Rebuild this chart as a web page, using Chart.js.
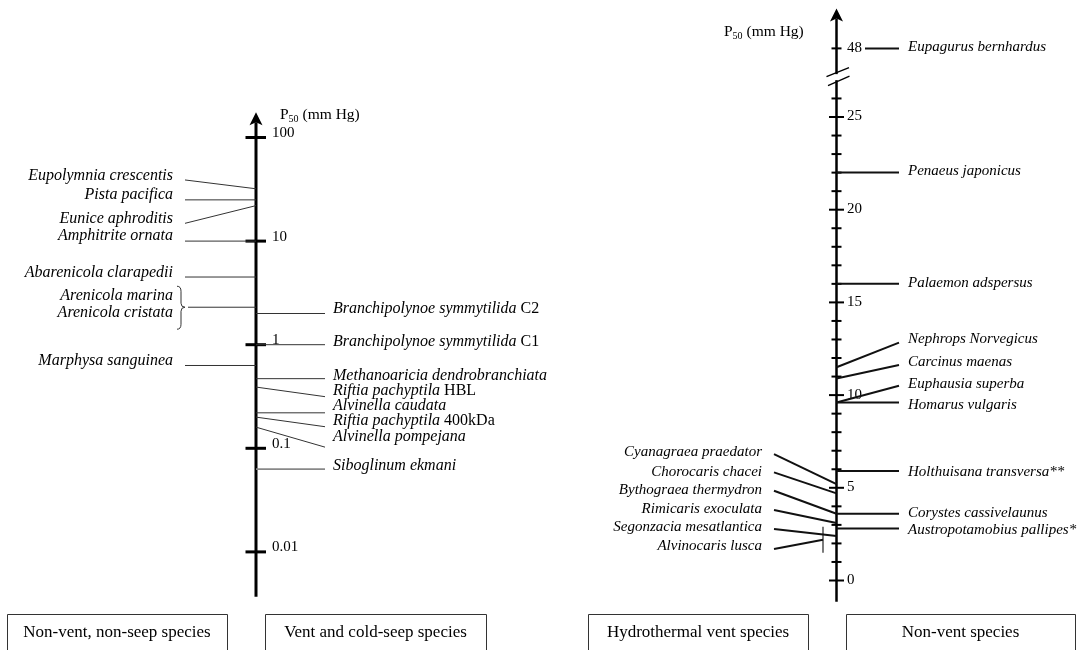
<!DOCTYPE html>
<html><head><meta charset="utf-8">
<script src="https://cdn.jsdelivr.net/npm/chart.js@4.4.1/dist/chart.umd.min.js"></script>
<style>html,body{margin:0;padding:0;background:#fff;}canvas{display:block;}</style>
</head><body>
<canvas id="c" width="1080" height="650"></canvas>
<script>
// ---------------- DATA ----------------
const nonVentNonSeepNames = ['Eupolymnia crescentis','Pista pacifica','Eunice aphroditis','Amphitrite ornata','Abarenicola clarapedii','Arenicola marina\nArenicola cristata','Marphysa sanguinea'];
const nonVentNonSeepP50 = [32, 25, 22, 10, 4.5, 2.3, 0.63];

const ventSeepNames = ['Branchipolynoe symmytilida','Branchipolynoe symmytilida','Methanoaricia dendrobranchiata','Riftia pachyptila','Alvinella caudata','Riftia pachyptila','Alvinella pompejana','Siboglinum ekmani'];
const ventSeepSuffix = ['C2','C1','','HBL','','400kDa','',''];
const ventSeepP50 = [2.0, 1.0, 0.47, 0.39, 0.22, 0.20, 0.16, 0.063];

const hydroVentNames = ['Cyanagraea praedator','Chorocaris chacei','Bythograea thermydron','Rimicaris exoculata','Segonzacia mesatlantica','Alvinocaris lusca'];
const hydroVentP50 = [5.2, 4.7, 3.6, 3.1, 2.4, 2.2];
const alvinocarisRange = [1.5, 2.9];

const nonVentNames = ['Eupagurus bernhardus','Penaeus japonicus','Palaemon adspersus','Nephrops Norvegicus','Carcinus maenas','Euphausia superba','Homarus vulgaris','Holthuisana transversa**','Corystes cassivelaunus','Austropotamobius pallipes*'];
const nonVentP50 = [48, 22, 16, 11.5, 10.9, 9.6, 9.6, 5.9, 3.6, 2.8];

const logTickValues = [0.01, 0.1, 1, 10, 100];
const logTickLabels = ['0.01', '0.1', '1', '10', '100'];
const linTickValues = [0,1,2,3,4,5,6,7,8,9,10,11,12,13,14,15,16,17,18,19,20,21,22,23,24,25,26,48];
const linTickLabels = ['0','','','','','5','','','','','10','','','','','15','','','','','20','','','','','25','','48'];

const groupTitles = ['Non-vent, non-seep species','Vent and cold-seep species','Hydrothermal vent species','Non-vent species'];
const axisTitle = ['P', '50', ' (mm Hg)'];

// ---------------- LAYOUT (pixels / styles) ----------------
const LEFT_AXIS_X = 256, RIGHT_AXIS_X = 836.5, ALV_BAR_X = 823;
const BREAK_SHIFT = 19.3, BREAK_ABOVE = 30, BREAK_MARK = 27.15;
function brk(v){ return v > BREAK_ABOVE ? v - BREAK_SHIFT : v; }

const nvnsLineDy = [-8.8, 0, 17.7, 0, 0, 0, 0];
const nvnsTextDy = [-4.5, -5, -5, -5, -4.5, -2.5, -5];   // relative to line end
const vsLineDy = [0, 0, 0, 9.6, 0, 9.6, 20, 0];
const vsTextDy = [-4.5, -3.2, -2.7, 3.4, -6.8, 4, 9.8, -3];
const hvLineDy = [-30, -21, -23, -13, -7, 9.3];
const hvTextDy = [-32, -21.4, -23.8, -14, -9, 6.3];
const nvLineDy = [0, 0, 0, -24.6, -13.4, -16.8, 0, 0, 0, 0];
const nvTextDy = [-1.4, -1.6, -0.6, -28.3, -16.7, -18.5, 2.5, 0.6, -1.1, 1.4];
const boxes = [[7,227],[265,486],[588,808],[846,1075]];

const SERIF = '"Liberation Serif", "Times New Roman", serif';

// ---------------- CHART ----------------
const pts = (vals, x, f) => vals.map(v => ({x: x, y: f ? f(v) : v}));

const drawPlugin = {
  id: 'diagram',
  afterDatasetsDraw(chart) {
    const ctx = chart.ctx;
    const xS = chart.scales.x, yL = chart.scales.yL, yR = chart.scales.yR;
    const lx = xS.getPixelForValue(LEFT_AXIS_X), rx = xS.getPixelForValue(RIGHT_AXIS_X);
    ctx.save();
    ctx.fillStyle = '#000'; ctx.strokeStyle = '#000';

    function label(it, suf, x, y, align, size) {
      const fi = `italic ${size}px ${SERIF}`, fr = `${size}px ${SERIF}`;
      ctx.font = fi; const w1 = ctx.measureText(it).width;
      ctx.font = fr; const w2 = suf ? ctx.measureText(' ' + suf).width : 0;
      const x0 = align === 'right' ? x - w1 - w2 : x;
      ctx.textAlign = 'left'; ctx.textBaseline = 'middle'; ctx.fillStyle = '#000';
      ctx.font = fi; ctx.fillText(it, x0, y);
      if (suf) { ctx.font = fr; ctx.fillText(' ' + suf, x0 + w1, y); }
    }
    function line(x1, y1, x2, y2, w, c) {
      ctx.beginPath(); ctx.moveTo(x1, y1); ctx.lineTo(x2, y2);
      ctx.lineWidth = w; ctx.strokeStyle = c; ctx.stroke();
    }
    function arrow(x, tip, hw, len) {
      ctx.beginPath(); ctx.moveTo(x, tip); ctx.lineTo(x + hw, tip + len);
      ctx.lineTo(x, tip + len - 3); ctx.lineTo(x - hw, tip + len); ctx.closePath();
      ctx.fillStyle = '#000'; ctx.fill();
    }
    function axisTitleAt(x, y) {
      ctx.textAlign = 'left'; ctx.textBaseline = 'middle'; ctx.fillStyle = '#000';
      ctx.font = `15.5px ${SERIF}`; ctx.fillText(axisTitle[0], x, y);
      const w = ctx.measureText(axisTitle[0]).width;
      ctx.font = `10px ${SERIF}`; ctx.fillText(axisTitle[1], x + w, y + 4);
      const w2 = ctx.measureText(axisTitle[1]).width;
      ctx.font = `15.5px ${SERIF}`; ctx.fillText(axisTitle[2], x + w + w2, y);
    }

    // ---- left (log) axis ----
    const lTop = yL.getPixelForValue(175), lBot = yL.getPixelForValue(0.0037);
    line(lx, lBot, lx, lTop + 10, 3, '#000');
    arrow(lx, lTop, 6.5, 13);
    logTickValues.forEach((v, i) => {
      const y = yL.getPixelForValue(v);
      line(lx - 10.5, y, lx + 10, y, 3, '#000');
      ctx.fillStyle = '#000'; ctx.font = `15px ${SERIF}`; ctx.textAlign = 'left'; ctx.textBaseline = 'middle';
      ctx.fillText(logTickLabels[i], lx + 16, y - 4.5);
    });
    axisTitleAt(280, 115);

    // ---- right (linear, broken) axis ----
    const rTop = yR.getPixelForValue(30.85), rBot = yR.getPixelForValue(-1.15);
    line(rx, rBot, rx, rTop + 10, 2.5, '#000');
    arrow(rx, rTop, 6.5, 13);
    linTickValues.forEach((v, i) => {
      const y = yR.getPixelForValue(brk(v));
      const major = linTickLabels[i] !== '' && v <= BREAK_ABOVE;
      const hw = major ? 7.5 : 5;
      line(rx - hw, y, rx + hw, y, 2, '#000');
      if (linTickLabels[i] !== '') {
        ctx.fillStyle = '#000'; ctx.font = `15px ${SERIF}`; ctx.textAlign = 'left'; ctx.textBaseline = 'middle';
        ctx.fillText(linTickLabels[i], rx + 10.5, y - 0.5);
      }
    });
    const by = yR.getPixelForValue(BREAK_MARK);
    ctx.fillStyle = '#fff'; ctx.fillRect(rx - 3, by - 3, 6, 6);
    line(rx - 10, by - 0.5, rx + 12.5, by - 9.5, 1.3, '#000');
    line(rx - 8.5, by + 8.5, rx + 13, by - 1, 1.3, '#000');
    axisTitleAt(724, 32);

    // ---- leader lines & labels: non-vent, non-seep (left of log axis) ----
    const m0 = chart.getDatasetMeta(0).data;
    nonVentNonSeepNames.forEach((n, i) => {
      const y0 = m0[i].y, y1 = y0 + nvnsLineDy[i];
      if (n.includes('\n')) {
        line(lx, y0, 188, y1, 1, '#333');
        const parts = n.split('\n');
        label(parts[0], '', 173, y1 + nvnsTextDy[i] - 8.5, 'right', 16);
        label(parts[1], '', 173, y1 + nvnsTextDy[i] + 8.5, 'right', 16);
        // brace
        const cy = y1, bx = 181;
        ctx.beginPath();
        ctx.moveTo(bx - 4, cy - 21);
        ctx.quadraticCurveTo(bx, cy - 21, bx, cy - 16);
        ctx.lineTo(bx, cy - 4);
        ctx.quadraticCurveTo(bx, cy, bx + 4, cy);
        ctx.quadraticCurveTo(bx, cy, bx, cy + 4);
        ctx.lineTo(bx, cy + 17);
        ctx.quadraticCurveTo(bx, cy + 22, bx - 4, cy + 22);
        ctx.lineWidth = 1; ctx.strokeStyle = '#333'; ctx.stroke();
      } else {
        line(lx, y0, 185, y1, 1, '#333');
        label(n, '', 173, y1 + nvnsTextDy[i], 'right', 16);
      }
    });

    // ---- vent & cold-seep (right of log axis) ----
    const m1 = chart.getDatasetMeta(1).data;
    ventSeepNames.forEach((n, i) => {
      const y0 = m1[i].y, y1 = y0 + vsLineDy[i];
      const last = i === ventSeepNames.length - 1;
      line(lx, y0, 325, y1, last ? 1.6 : 1, last ? '#888' : '#333');
      label(n, ventSeepSuffix[i], 333, y0 + vsTextDy[i], 'left', 16);
    });

    // ---- hydrothermal vent (left of linear axis) ----
    const m2 = chart.getDatasetMeta(2).data;
    const bar = chart.getDatasetMeta(4).data;
    hydroVentNames.forEach((n, i) => {
      const y0 = m2[i].y;
      const last = i === hydroVentNames.length - 1;
      const sx = last ? bar[0].x : rx;
      line(sx, y0, 774, y0 + hvLineDy[i], 2, '#111');
      label(n, '', 762, y0 + hvTextDy[i], 'right', 15);
    });

    // ---- non-vent (right of linear axis) ----
    const m3 = chart.getDatasetMeta(3).data;
    nonVentNames.forEach((n, i) => {
      const y0 = m3[i].y;
      const sx = i === 0 ? rx + 28.5 : rx;
      line(sx, y0, 899, y0 + nvLineDy[i], 2, '#111');
      label(n, '', 908, y0 + nvTextDy[i], 'left', 15);
    });

    // ---- group boxes ----
    boxes.forEach((b, i) => {
      ctx.beginPath();
      ctx.rect(b[0] + 0.5, 614.5, b[1] - b[0], 60);
      ctx.lineWidth = 1; ctx.strokeStyle = '#333'; ctx.stroke();
      ctx.fillStyle = '#000'; ctx.font = `17px ${SERIF}`; ctx.textAlign = 'center'; ctx.textBaseline = 'middle';
      ctx.fillText(groupTitles[i], (b[0] + b[1]) / 2, 633);
    });
    ctx.restore();
  }
};

new Chart(document.getElementById('c'), {
  type: 'scatter',
  data: {
    datasets: [
      { label: 'Non-vent, non-seep', data: pts(nonVentNonSeepP50, LEFT_AXIS_X), yAxisID: 'yL', pointRadius: 0 },
      { label: 'Vent and cold-seep', data: pts(ventSeepP50, LEFT_AXIS_X), yAxisID: 'yL', pointRadius: 0 },
      { label: 'Hydrothermal vent', data: pts(hydroVentP50, RIGHT_AXIS_X), yAxisID: 'yR', pointRadius: 0 },
      { label: 'Non-vent', data: pts(nonVentP50, RIGHT_AXIS_X, brk), yAxisID: 'yR', pointRadius: 0 },
      { label: 'Alvinocaris lusca range', type: 'line', data: pts(alvinocarisRange, ALV_BAR_X),
        yAxisID: 'yR', pointRadius: 0, showLine: true, borderColor: '#222', borderWidth: 1.2, fill: false }
    ]
  },
  options: {
    responsive: false, devicePixelRatio: 1, animation: false,
    layout: { padding: { top: 8, bottom: 50, left: 0, right: 0 } },
    plugins: { legend: { display: false }, tooltip: { enabled: false } },
    scales: {
      x: { type: 'linear', min: 0, max: 1080, display: false },
      yL: { type: 'logarithmic', min: Math.pow(10, -2.46429), max: Math.pow(10, 3.25), display: false },
      yR: { type: 'linear', min: -1.0518, max: 30.879, display: false }
    }
  },
  plugins: [drawPlugin]
});
</script>
</body></html>
